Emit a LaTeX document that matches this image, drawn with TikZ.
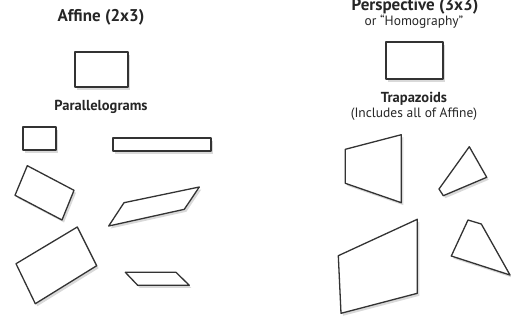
\documentclass[tikz,border=0pt]{standalone}
\usepackage{fontspec}
\setmainfont{PT Sans}
\usetikzlibrary{shadows}
\begin{document}
\begin{tikzpicture}[x=1pt,y=-1pt,
  shp/.style={draw=black!80, fill=white, line join=round,
    drop shadow={opacity=0.3, shadow xshift=2pt, shadow yshift=-2.5pt}},
  thick shp/.style={shp, line width=2pt},
  thin shp/.style={shp, line width=1.3pt},
  title/.style={font=\bfseries\fontsize{17}{19}\selectfont, anchor=base, inner sep=0pt, text=black!85},
  sub/.style={font=\fontsize{13.5}{15}\selectfont, anchor=base, inner sep=0pt, text=black!85},
  label/.style={font=\bfseries\fontsize{14.5}{16}\selectfont, anchor=base, inner sep=0pt, text=black!85}]
\useasboundingbox (0,0) rectangle (511,322);
% Titles
\node[title] (affT) at (101,21) {Affine (2x3)};
\node[title] (perT) at (415,10) {Perspective (3x3)};
\node[sub] (perS) at (414,25) {or \textquotedblleft Homography\textquotedblright};
\node[label] (par) at (101,110) {Parallelograms};
\node[label] (tra) at (414,102) {Trapazoids};
\node[sub] (inc) at (414,117) {(Includes all of Affine)};
% reference rectangles
\draw[thick shp] (75,52) rectangle (128,87);
\draw[thick shp] (386,42) rectangle (443,79);
% affine shapes
\draw[thick shp] (23,127) rectangle (56,150);
\draw[thick shp] (113,138) rectangle (211,151);
\draw[thin shp] (27.3,165.7) -- (74,190.3) -- (62,220) -- (15,195.3) -- cycle;
\draw[thin shp] (124,202.7) -- (199.3,187) -- (184.3,209.3) -- (108.7,226) -- cycle;
\draw[thin shp] (77.3,227) -- (96.7,265.7) -- (35.3,303.7) -- (16,263.7) -- cycle;
\draw[thin shp] (125.3,272.3) -- (176,272.3) -- (189.3,285.3) -- (137.7,285.3) -- cycle;
% perspective shapes
\draw[thin shp] (345.3,149.3) -- (401.3,134.7) -- (401.3,202.7) -- (345.3,183.3) -- cycle;
\draw[thin shp] (469.3,146.7) -- (486.7,177.3) -- (443.3,195.7) -- (439,189) -- cycle;
\draw[thin shp] (338.3,255.7) -- (417.3,219.3) -- (417.3,293.3) -- (341,313.3) -- cycle;
\draw[thin shp] (468,220) -- (481.3,224) -- (510,275) -- (451.3,256) -- cycle;
\end{tikzpicture}
\end{document}
